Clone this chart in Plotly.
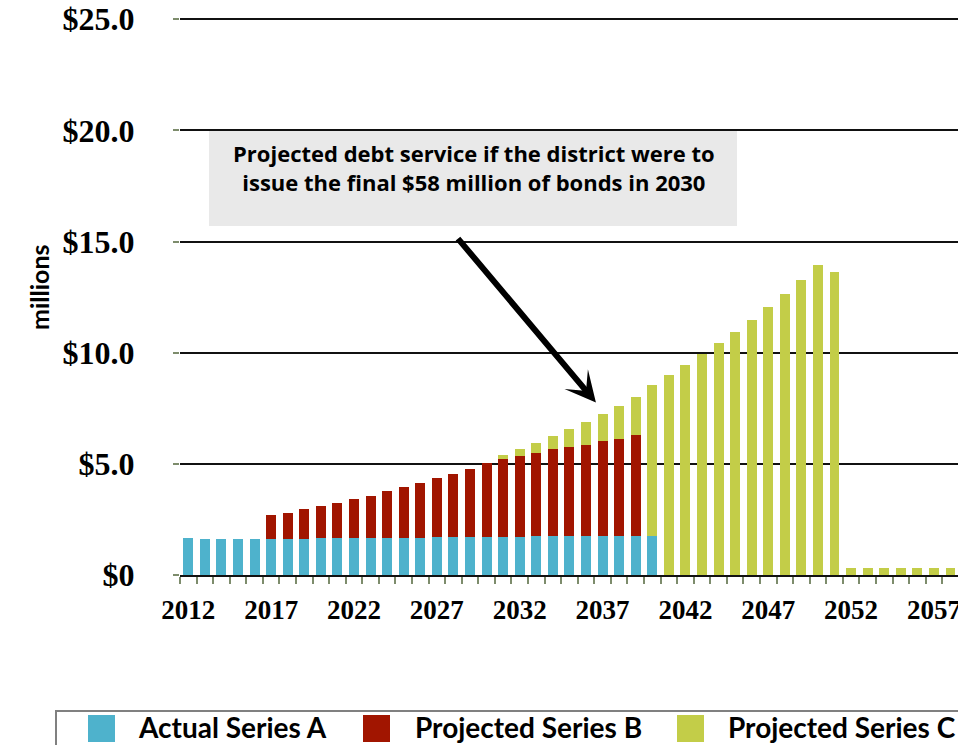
import plotly.graph_objects as go

# ---- data (millions of dollars per year) ----
years = list(range(2012, 2059))

actual_series_a = [
    1.68, 1.60, 1.60, 1.60, 1.60,                    # 2012-2016
    1.63, 1.63, 1.63,                                # 2017-2019
    1.68, 1.68, 1.68, 1.68, 1.68, 1.68, 1.68,        # 2020-2026
    1.72, 1.72, 1.72, 1.72, 1.72, 1.72,              # 2027-2032
    1.77, 1.77, 1.77, 1.77, 1.77, 1.77, 1.77, 1.77,  # 2033-2040
] + [None] * 18                                      # 2041-2058

projected_series_b = [None] * 5 + [                  # 2012-2016
    1.08, 1.16, 1.34, 1.43, 1.56, 1.74, 1.88, 2.10,  # 2017-2024
    2.28, 2.46, 2.63, 2.81, 3.03, 3.30, 3.52, 3.65,  # 2025-2032
    3.74, 3.88, 3.97, 4.10, 4.24, 4.37, 4.51,        # 2033-2039
] + [None] * 19                                      # 2040-2058

projected_series_c = [None] * 19 + [                 # 2012-2030
    0.18, 0.31, 0.45, 0.62, 0.84, 1.03, 1.24, 1.47, 1.73,   # 2031-2039
    6.78,                                                   # 2040
    9.00, 9.45, 9.94, 10.43, 10.92, 11.46, 12.04, 12.66,    # 2041-2048
    13.29, 13.96, 13.65,                                    # 2049-2051
    0.30, 0.30, 0.33, 0.33, 0.33, 0.33, 0.33,               # 2052-2058
]

series_names = ["Actual Series A", "Projected Series B", "Projected Series C"]
series_colors = ["#4EB2CC", "#A11500", "#C3CD48"]

y_tick_vals = [0, 5, 10, 15, 20, 25]
y_tick_text = ["$0", "$5.0", "$10.0", "$15.0", "$20.0", "$25.0"]
x_tick_vals = list(range(2012, 2058, 5))
x_tick_text = [str(v) for v in x_tick_vals]

note_text = ("Projected debt service if the district were to<br>"
             "issue the final $58 million of bonds in 2030")

# ---- page geometry (pixels) ----
W, H = 958, 745
L, T, R, B = 180, 17, 958, 575
Y_MAX = 25.1


def px(x):
    return (x - L) / (R - L)


def py(y):
    return (B - y) / (B - T)


SANS = "Lato"
SERIF = "Liberation Serif"

fig = go.Figure()
for name, vals, color in zip(series_names,
                             [actual_series_a, projected_series_b, projected_series_c],
                             series_colors):
    fig.add_trace(go.Bar(x=years, y=vals, name=name, marker_color=color,
                         marker_line_width=0, showlegend=False))

fig.update_layout(
    width=W, height=H,
    margin=dict(l=L, r=W - R, t=T, b=H - B, autoexpand=False),
    paper_bgcolor="white", plot_bgcolor="white",
    barmode="stack", bargap=0.4,
    xaxis=dict(
        range=[2011.5, 2011.5 + (R - L) / 16.57],
        tickmode="array", tickvals=x_tick_vals, ticktext=x_tick_text,
        ticks="", showgrid=False, zeroline=False,
        showline=True, linecolor="#111111", linewidth=2,
        tickfont=dict(family=SERIF, size=27, color="black", weight="bold"),
        ticklabelstandoff=10, ticklabeloverflow="allow",
        minor=dict(tickmode="array", tickvals=[y - 0.5 for y in years],
                   ticks="outside", ticklen=7, tickwidth=2,
                   tickcolor="#7D8C6C", showgrid=False),
    ),
    yaxis=dict(
        range=[0, Y_MAX],
        tickmode="array", tickvals=y_tick_vals, ticktext=y_tick_text,
        ticks="outside", ticklen=6, tickwidth=2, tickcolor="#7D8C6C",
        showgrid=True, gridcolor="#111111", gridwidth=2,
        zeroline=False, showline=False,
        tickfont=dict(family=SERIF, size=32, color="black", weight="bold"),
        ticklabelstandoff=32,
    ),
)

# axis title
fig.add_annotation(text="millions", textangle=-90, xref="paper", yref="paper",
                   x=px(22), y=py(287), showarrow=False,
                   font=dict(family=SANS, size=25, color="black", weight="bold"))

# callout box and its text
fig.add_shape(type="rect", xref="paper", yref="paper", layer="above",
              x0=px(209), x1=px(737), y0=py(226), y1=py(131),
              line_width=0, fillcolor="#E9E9E9")
fig.add_annotation(text=note_text, xref="paper", yref="paper",
                   x=px(474), y=py(168), xanchor="center", yanchor="middle",
                   showarrow=False, align="center",
                   font=dict(family="Open Sans", size=22, color="black", weight="bold"))

# callout arrow pointing at the 2030-issue bars
fig.add_annotation(text="", x=2036.6, y=7.76, xref="x", yref="y",
                   ax=2028.2, ay=15.2, axref="x", ayref="y",
                   showarrow=True, arrowhead=3, arrowsize=0.85,
                   arrowwidth=6, arrowcolor="black")

# legend strip along the bottom
fig.add_shape(type="rect", xref="paper", yref="paper",
              x0=px(56), x1=px(1000), y0=py(711), y1=py(790),
              line=dict(color="#808080", width=2), fillcolor="rgba(0,0,0,0)")
legend_x = [(88, 136), (363, 413), (677, 726)]
for (sq_x, tx_x), name, color in zip(legend_x, series_names, series_colors):
    fig.add_shape(type="rect", xref="paper", yref="paper",
                  x0=px(sq_x), x1=px(sq_x + 27), y0=py(742), y1=py(715),
                  line_width=0, fillcolor=color)
    fig.add_annotation(text=name, xref="paper", yref="paper",
                       x=px(tx_x), y=py(727), xanchor="left", yanchor="middle",
                       showarrow=False,
                       font=dict(family=SANS, size=28, color="black", weight="bold"))

fig.write_html("out.html")
